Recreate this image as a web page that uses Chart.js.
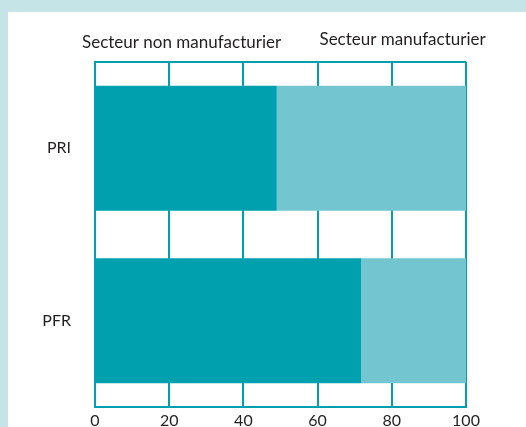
<!DOCTYPE html>
<html>
<head>
<meta charset="utf-8">
<script src="https://cdn.jsdelivr.net/npm/chart.js@4/dist/chart.umd.min.js"></script>
<style>
    html, body { margin: 0; padding: 0; width: 526px; height: 427px; overflow: hidden; background: #c5e4e8; }
    #panel { position: absolute; left: 8px; top: 12px; width: 518px; height: 440px; background: #fff; }
</style>
</head>
<body>
<div id="panel"><canvas id="chart" width="518" height="440"></canvas></div>
<script>
// DATA
const categories = ['PRI', 'PFR'];
const seriesNames = ['Secteur non manufacturier', 'Secteur manufacturier'];
const nonManuf = [49, 71.7];
const manuf = [51, 28.3];
const xTicks = [0, 20, 40, 60, 80, 100];

const teal = '#00a0ae';
const tealLight = '#73c6d0';
const textColor = '#231f20';
const font = { family: 'Lato', size: 16 };

// labels above the plot, top border
const headerPlugin = {
    id: 'header',
    afterDraw(chart) {
        const { ctx, chartArea, scales } = chart;
        ctx.save();
        ctx.strokeStyle = teal;
        ctx.lineWidth = 2;
        ctx.beginPath();
        ctx.moveTo(chartArea.left, chartArea.top);
        ctx.lineTo(chartArea.right, chartArea.top);
        ctx.stroke();
        ctx.fillStyle = textColor;
        ctx.font = '17px Lato';
        ctx.textBaseline = 'alphabetic';
        ctx.textAlign = 'left';
        ctx.fillText(seriesNames[0], scales.x.getPixelForValue(-3.5), chartArea.top - 14);
        ctx.fillText(seriesNames[1], scales.x.getPixelForValue(60.5), chartArea.top - 17);
        ctx.restore();
    }
};

new Chart(document.getElementById('chart'), {
    type: 'bar',
    data: {
        labels: categories,
        datasets: [
            { label: seriesNames[0], data: nonManuf, backgroundColor: teal },
            { label: seriesNames[1], data: manuf, backgroundColor: tealLight }
        ]
    },
    options: {
        indexAxis: 'y',
        responsive: false,
        animation: false,
        barPercentage: 1,
        categoryPercentage: 0.725,
        layout: { padding: { top: 50, right: 60, left: 0, bottom: 0 } },
        plugins: { legend: { display: false }, tooltip: { enabled: false }, header: {} },
        scales: {
            x: {
                stacked: true,
                min: 0,
                max: 100,
                afterBuildTicks: (s) => { s.ticks = xTicks.map(v => ({ value: v })); },
                afterFit: (s) => { s.height = 45; },
                grid: { color: teal, lineWidth: 2, drawTicks: false },
                border: { color: teal, width: 2 },
                ticks: { color: textColor, font: font, padding: 4 }
            },
            y: {
                stacked: true,
                afterFit: (s) => { s.width = 87; },
                grid: { display: false, drawTicks: false },
                border: { color: teal, width: 2 },
                ticks: { color: textColor, font: font, padding: 24 }
            }
        }
    },
    plugins: [headerPlugin]
});
</script>
</body>
</html>
